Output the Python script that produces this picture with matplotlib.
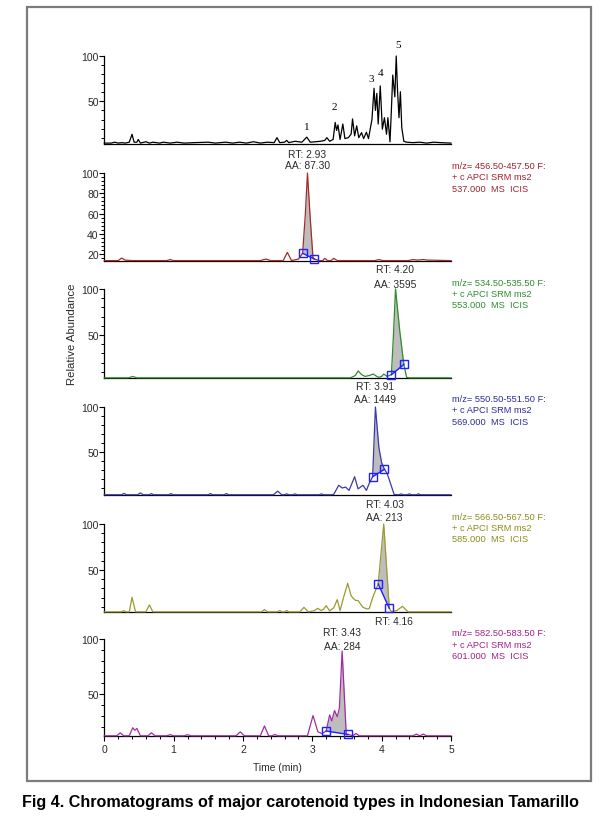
import numpy as np
import matplotlib
matplotlib.use("Agg")
import matplotlib.pyplot as plt
from matplotlib.patches import Rectangle
from matplotlib.ticker import MultipleLocator

plt.rcParams['font.family'] = ['Liberation Sans', 'DejaVu Sans']

# ---------------- data ----------------
# Panel 1: total ion chromatogram (black)
t1 = [0.00, 0.10, 0.15, 0.20, 0.25, 0.30, 0.36, 0.40, 0.43, 0.47, 0.49, 0.52, 0.60, 0.65, 0.70,
      0.80, 0.85, 0.95, 1.05, 1.15, 1.30, 1.50, 1.60, 1.75, 1.85, 1.95, 2.05, 2.15, 2.25, 2.35,
      2.45, 2.49, 2.53, 2.60, 2.63, 2.66, 2.75, 2.85, 2.92, 2.97, 3.05, 3.12, 3.18, 3.21, 3.25,
      3.30, 3.33, 3.35, 3.37, 3.40, 3.44, 3.47, 3.52, 3.56, 3.58, 3.61, 3.64, 3.67, 3.71, 3.74,
      3.78, 3.81, 3.83, 3.86, 3.89, 3.91, 3.93, 3.95, 3.98, 4.01, 4.04, 4.07, 4.09, 4.12, 4.14,
      4.16, 4.19, 4.21, 4.23, 4.25, 4.27, 4.29, 4.32, 4.36, 4.45, 4.55, 4.65, 4.75, 4.85, 5.00]
i1 = [4, 4, 5, 4, 4.5, 4, 5, 13.7, 5, 5, 8, 4, 5.5, 4, 5,
      4, 5, 4, 5, 4, 4.5, 5, 4, 5, 4, 5, 4, 5.5, 4, 5,
      4.5, 10, 4.5, 5, 7, 4.5, 6, 5, 10.6, 5, 5.5, 6, 7, 10, 6,
      8, 26.8, 18, 24, 8, 25, 9, 10, 14, 30.6, 12, 23, 10, 15.5, 9,
      16, 9, 17.4, 30, 64.4, 40, 58.8, 25, 67, 19.3, 32, 13.7, 32, 5.4, 40,
      79, 55, 100, 60, 32, 60.6, 21, 6, 5, 4.5, 5, 4, 5, 4.5, 4]
peak_numbers = ["1", "2", "3", "4", "5"]

# Panel 2: m/z 456.5-457.5 (red)
t2 = [0.0, 0.20, 0.25, 0.30, 0.40, 0.90, 0.95, 1.00, 2.25, 2.33, 2.40, 2.58, 2.64, 2.70, 2.80,
      2.86, 2.90, 2.93, 2.97, 3.01, 3.03, 3.10, 3.15, 3.18, 3.22, 3.27, 3.31, 3.36, 3.90, 3.96,
      4.02, 4.38, 4.45, 4.52, 4.60, 4.66, 5.0]
i2 = [13.5, 13.5, 16, 14, 13.5, 13.5, 14.5, 13.5, 13.5, 15, 13.5, 13.5, 21.6, 13.5, 15,
      20.7, 60, 100, 55, 16, 15, 13.5, 13.5, 15.7, 13.5, 13.5, 15.7, 13.5, 13.5, 14.5,
      13.5, 13.5, 14.5, 14, 14.5, 14, 13.5]
box_t2 = [2.86, 3.03]
box_i2 = [20.7, 15]

# Panel 3: m/z 534.5-535.5 (green)
t3 = [0.0, 0.35, 0.41, 0.47, 3.55, 3.62, 3.66, 3.71, 3.76, 3.82, 3.88, 3.93, 3.96, 4.00, 4.03,
      4.08, 4.14, 4.17, 4.20, 4.26, 4.32, 4.36, 4.40, 5.0]
i3 = [3.5, 3.5, 5, 3.5, 3.5, 6, 11, 7, 5, 6, 7.6, 5, 4, 5, 7.6,
      5, 6.9, 50, 100, 55, 18, 4, 3.5, 3.5]
box_t3 = [4.14, 4.32]
box_i3 = [6.9, 18]

# Panel 4: m/z 550.5-551.5 (blue)
t4 = [0.0, 0.25, 0.285, 0.32, 0.48, 0.52, 0.56, 0.65, 0.68, 0.71, 0.93, 0.96, 0.99, 1.50, 1.53,
      1.56, 1.73, 1.76, 1.79, 2.44, 2.50, 2.56, 2.60, 2.63, 2.66, 2.72, 2.75, 2.78, 3.10, 3.13,
      3.16, 3.28, 3.31, 3.38, 3.43, 3.48, 3.53, 3.61, 3.66, 3.73, 3.78, 3.82, 3.87, 3.91, 3.96,
      4.00, 4.04, 4.08, 4.18, 4.25, 4.28, 4.31, 4.37, 4.40, 4.43, 4.50, 4.53, 4.56, 5.0]
i4 = [2.5, 2.5, 4, 2.5, 2.5, 4.5, 2.5, 2.5, 3.8, 2.5, 2.5, 3.8, 2.5, 2.5, 3.8,
      2.5, 2.5, 3.8, 2.5, 2.5, 6.5, 2.5, 2.5, 3.5, 2.5, 2.5, 3.5, 2.5, 2.5, 3.5,
      2.5, 2.5, 3, 13, 10, 11, 7.3, 22.5, 9, 13, 7.3, 15, 22.5, 100, 55,
      38, 30.8, 26, 2.8, 2.5, 3.5, 2.5, 2.5, 3.5, 2.5, 2.5, 3.5, 2.5, 2.5]
box_t4 = [3.87, 4.04]
box_i4 = [22.5, 30.8]

# Panel 5: m/z 566.5-567.5 (olive)
t5 = [0.0, 0.25, 0.28, 0.31, 0.36, 0.40, 0.45, 0.60, 0.65, 0.70, 2.27, 2.31, 2.35, 2.50, 2.53,
      2.56, 2.60, 2.63, 2.66, 2.82, 2.88, 2.94, 3.02, 3.08, 3.12, 3.16, 3.20, 3.25, 3.31, 3.36,
      3.40, 3.45, 3.51, 3.56, 3.58, 3.62, 3.66, 3.73, 3.79, 3.82, 3.88, 3.95, 4.03, 4.11, 4.14,
      4.22, 4.30, 4.38, 5.0]
i5 = [4.5, 4.5, 5.8, 4.5, 4.5, 20.3, 4.5, 4.5, 12, 4.5, 4.5, 7, 4.5, 4.5, 6,
      4.5, 4.5, 6, 4.5, 4.5, 9.4, 4.5, 5.5, 8.3, 6, 7, 11.2, 5.5, 9, 17.8,
      5.8, 20, 35.5, 22, 20, 17, 16.7, 9.4, 7.6, 8, 22, 34.8, 100, 8.3, 4.7,
      6, 10.5, 4.5, 4.5]
box_t5 = [3.95, 4.11]
box_i5 = [34.8, 8.3]

# Panel 6: m/z 582.5-583.5 (purple)
t6 = [0.0, 0.18, 0.23, 0.28, 0.36, 0.41, 0.44, 0.47, 0.52, 0.63, 0.68, 0.73, 0.90, 0.95, 1.00,
      1.15, 1.20, 1.25, 1.90, 1.96, 2.02, 2.25, 2.31, 2.37, 2.42, 2.46, 2.50, 2.93, 3.01, 3.08,
      3.14, 3.20, 3.25, 3.28, 3.32, 3.36, 3.39, 3.43, 3.49, 3.52, 3.58, 3.63, 3.68, 4.45, 4.50,
      4.55, 4.60, 4.65, 5.0]
i6 = [12, 12, 14.7, 12, 12, 19.3, 17, 18.7, 12, 12, 14.7, 12, 12, 13, 12,
      12, 13, 12, 12, 15.6, 12, 12, 20.9, 12, 12, 13.2, 12, 12, 30.4, 15.6,
      14, 16.3, 31, 25.5, 35, 29.4, 37, 89, 12.6, 13.2, 12, 14, 12, 12, 13.5,
      12, 13.5, 12, 12]
box_t6 = [3.20, 3.52]
box_i6 = [16.3, 13.2]

rt_labels = ["RT: 2.93", "RT: 4.20", "RT: 3.91", "RT: 4.03", "RT: 3.43"]
aa_labels = ["AA: 87.30", "AA: 3595", "AA: 1449", "AA: 213", "AA: 284"]
mz_labels = ["m/z= 456.50-457.50 F:", "m/z= 534.50-535.50 F:", "m/z= 550.50-551.50 F:",
             "m/z= 566.50-567.50 F:", "m/z= 582.50-583.50 F:"]
scan_label = "+ c APCI SRM ms2"
ms_labels = ["537.000  MS  ICIS", "553.000  MS  ICIS", "569.000  MS  ICIS",
             "585.000  MS  ICIS", "601.000  MS  ICIS"]
x_ticks = [0, 1, 2, 3, 4, 5]
caption = "Fig 4. Chromatograms of major carotenoid types in Indonesian Tamarillo"

# ---------------- layout ----------------
W, H = 611, 829
fig = plt.figure(figsize=(W / 100, H / 100), dpi=100)

def fx(px):
    return px / W

def fy(py):
    return 1 - py / H

X0, X1 = 104.3, 451.0
tops = [57, 174, 290, 408, 525, 640]
bots = [145, 262, 379, 496, 613, 737]
ybots = [3.0, 13.1, 3.3, 2.2, 4.3, 11.8]

trace_colors = ['black', '#a52a2a', '#2e8b2e', '#3a3aa8', '#9a9a30', '#a32ca3']
text_colors = ['#a0232d', '#2e8b2e', '#2b2b9c', '#8c8c1c', '#a0228c']
box_color = '#1f1fff'
TXT = '#2a2a2a'

series = [(t1, i1), (t2, i2), (t3, i3), (t4, i4), (t5, i5), (t6, i6)]
boxes = [None, (box_t2, box_i2), (box_t3, box_i3), (box_t4, box_i4), (box_t5, box_i5), (box_t6, box_i6)]

axes = []
for k in range(6):
    ax = fig.add_axes([fx(X0), fy(bots[k]), fx(X1 - X0), (bots[k] - tops[k]) / H])
    axes.append(ax)
    ax.set_xlim(0, 5)
    ax.set_ylim(ybots[k], 100)
    for s in ['top', 'right']:
        ax.spines[s].set_visible(False)
    ax.spines['left'].set_linewidth(0.9)
    ax.spines['bottom'].set_linewidth(0.9)
    ax.patch.set_alpha(0)
    t, v = series[k]
    t = np.asarray(t); v = np.asarray(v)
    if boxes[k] is not None:
        bt, bi = boxes[k]
        grid = np.linspace(bt[0], bt[1], 300)
        ax.fill_between(grid, np.interp(grid, bt, bi), np.interp(grid, t, v),
                        color='#bdbdbd', lw=0, zorder=2)
    ax.plot(t, v, color=trace_colors[k], lw=0.9, zorder=3, clip_on=False)
    if boxes[k] is not None:
        ax.plot(bt, bi, color=box_color, lw=1.0, marker='s', ms=5.5, mfc='none',
                mec=box_color, mew=1.0, zorder=4, clip_on=False)
    # y ticks
    if k == 1:
        ax.yaxis.set_minor_locator(MultipleLocator(4))
        ax.set_yticks([20, 40, 60, 80, 100])
    else:
        ax.set_yticks([50, 100])
        ax.yaxis.set_minor_locator(MultipleLocator(10))
    ax.tick_params(axis='y', which='major', direction='out', length=3.5, width=0.8,
                   labelsize=7.5, pad=0.5, colors='black', labelcolor=TXT)
    ax.tick_params(axis='y', which='minor', direction='out', length=2, width=0.7)
    if k == 5:
        ax.set_xticks(x_ticks)
        ax.set_xticklabels([str(x) for x in x_ticks])
        ax.xaxis.set_minor_locator(MultipleLocator(0.2))
        ax.tick_params(axis='x', which='major', direction='out', length=3.5, width=0.8,
                       labelsize=7.5, pad=2, labelcolor=TXT)
        ax.tick_params(axis='x', which='minor', direction='out', length=2.5, width=0.7)
    else:
        ax.set_xticks([])
        ax.tick_params(axis='x', which='minor', length=0)

# peak numbers on top panel
num_pos = [(306.7, 127), (334, 108), (371.5, 79), (380.5, 73), (398, 45)]
for lab, (px, py) in zip(peak_numbers, num_pos):
    fig.text(fx(px), fy(py), lab, fontsize=8, family='Liberation Serif',
             ha='center', va='center', color='black')

# RT / AA labels
FS_RT = 7.4
rt_pos = [(307.5, 154.5, 166), (395.5, 270, 284.5), (375.5, 387.5, 400), (384.5, 505.5, 518), (342, 633.5, 647)]
for k in range(5):
    px, py1, py2 = rt_pos[k]
    fig.text(fx(px), fy(py1), rt_labels[k], fontsize=FS_RT, ha='center', va='center', color=TXT)
    fig.text(fx(px), fy(py2), aa_labels[k], fontsize=FS_RT, ha='center', va='center', color=TXT)
fig.text(fx(394), fy(622), "RT: 4.16", fontsize=FS_RT, ha='center', va='center', color=TXT)

# right-hand labels
mz_y = [166.5, 283, 399.5, 517, 634]
for k in range(5):
    y = mz_y[k]
    for j, s in enumerate([mz_labels[k], scan_label, ms_labels[k]]):
        fig.text(fx(452.5), fy(y + j * 11.3), s, fontsize=6.65, ha='left', va='center',
                 color=text_colors[k])

# axis labels
fig.text(fx(72), fy(334), "Relative Abundance", rotation=90, fontsize=8.2,
         ha='center', va='center', color=TXT)
fig.text(fx(277), fy(768), "Time (min)", fontsize=7.4, ha='center', va='center', color=TXT)

# frame
fig.patches.append(Rectangle((fx(27), fy(782)), fx(591 - 27), (782 - 8) / H,
                             transform=fig.transFigure, fill=False, ec='#7c7c7c', lw=1.6))

# caption
fig.text(fx(22), fy(802.5), caption, fontsize=11.6, fontweight='bold', ha='left', va='center',
         color='black')

fig.savefig("out.png", dpi=100)
